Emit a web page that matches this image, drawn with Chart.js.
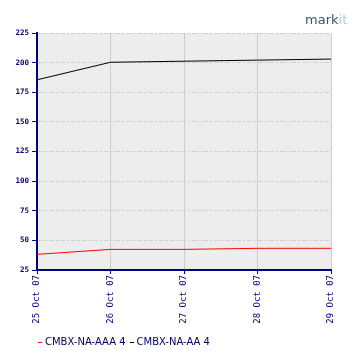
<!DOCTYPE html>
<html><head><meta charset="utf-8">
<script src="https://cdn.jsdelivr.net/npm/chart.js@4/dist/chart.umd.min.js"></script>
<style>
html,body{margin:0;padding:0;background:#fff;}
#wrap{position:relative;width:360px;height:360px;}
#logo{position:absolute;left:305px;top:13px;line-height:13px;font-family:"DejaVu Sans",sans-serif;font-size:13px;letter-spacing:0px;}
#logo .a{color:#35596a;}#logo .b{color:#aecbd4;}
#legend{position:absolute;left:38px;top:336px;font-family:"DejaVu Sans",sans-serif;font-size:10px;color:#000066;white-space:nowrap;}
#legend span.m{display:inline-block;width:4px;height:1px;vertical-align:middle;margin-right:3px;}
#legend span.i{margin-right:4px;}
</style></head>
<body><div id="wrap"><canvas id="c" width="360" height="360"></canvas>
<div id="logo"><span class="a">mark</span><span class="b">it</span></div>
<div id="legend"></div></div>
<script>
const categories = ['25 Oct 07','26 Oct 07','27 Oct 07','28 Oct 07','29 Oct 07'];
const seriesNames = ['CMBX-NA-AAA 4','CMBX-NA-AA 4'];
const aaa4 = [38.2, 42.4, 42.4, 43.3, 43.3];
const aa4 = [185.5, 200.3, 201.2, 202.1, 203.0];
const yTicks = [25,50,75,100,125,150,175,200,225];
const colors = ['#ff0000','#000000'];

const navy = '#000080';
const bgPlugin = {id:'bg',beforeDraw(ch){const a=ch.chartArea,c=ch.ctx;c.save();c.fillStyle='#ededed';c.fillRect(a.left,a.top,a.right-a.left,a.bottom-a.top);c.restore();}};

new Chart(document.getElementById('c'),{
  type:'line',
  data:{labels:categories,datasets:[
    {label:seriesNames[0],data:aaa4,borderColor:colors[0],borderWidth:1,pointRadius:0,tension:0,order:1},
    {label:seriesNames[1],data:aa4,borderColor:colors[1],borderWidth:1,pointRadius:0,tension:0,order:2}
  ]},
  options:{
    responsive:false,animation:false,
    layout:{padding:{top:33,right:29,left:0,bottom:0}},
    plugins:{legend:{display:false},tooltip:{enabled:false}},
    scales:{
      x:{
        offset:false,
        afterFit(s){s.height=90;},
        grid:{color:'#cccccc',lineWidth:1,tickColor:navy,tickLength:4,drawTicks:true},
        border:{color:navy,width:2},
        ticks:{color:navy,font:{family:'DejaVu Sans Mono',size:9},minRotation:90,maxRotation:90,padding:1,autoSkip:false}
      },
      y:{
        min:25,max:225,
        afterFit(s){s.width=37;},
        afterBuildTicks(s){s.ticks=yTicks.map(v=>({value:v}));},
        grid:{color:'#cfcfcf',lineWidth:1,tickColor:navy,tickLength:5,tickBorderDash:[]},
        border:{color:navy,width:2,dash:[5,2,2,2]},
        ticks:{color:navy,font:{family:'DejaVu Sans Mono',size:7.5,weight:'bold'},padding:3}
      }
    }
  },
  plugins:[bgPlugin]
});

const lg=document.getElementById('legend');
seriesNames.forEach((n,i)=>{
  const m=document.createElement('span');m.className='m';m.style.background=colors[i];
  const t=document.createElement('span');t.className='i';t.textContent=n;
  lg.appendChild(m);lg.appendChild(t);
});
</script></body></html>
